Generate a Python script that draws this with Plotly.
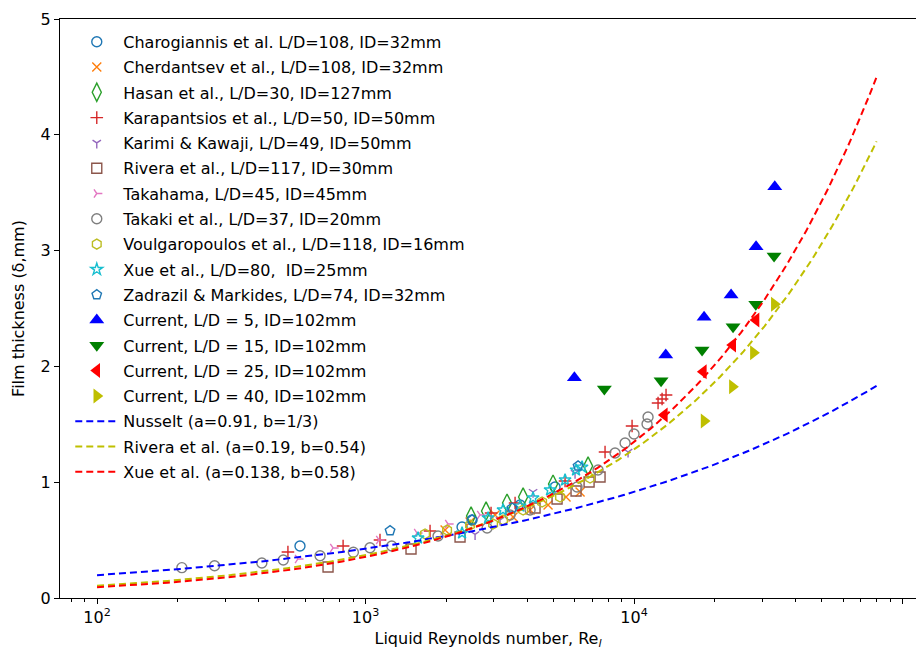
import numpy as np
import plotly.graph_objects as go

# ---------------- data ----------------
charo_re = [570, 2288, 2493, 3763, 5078]
charo_d = [0.449, 0.613, 0.674, 0.803, 0.959]

cherd_re = [1978, 2451, 3037, 3543, 4100, 4783, 5581, 6294]
cherd_d = [0.587, 0.656, 0.717, 0.699, 0.760, 0.803, 0.872, 0.915]

hasan_re = [2472, 2811, 3365, 3862, 4992, 6742]
hasan_d = [0.708, 0.751, 0.820, 0.872, 0.984, 1.140]

karap_re = [514, 825, 1132, 1739, 2934, 3605, 5534, 7798, 9831, 12286, 12715, 13156]
karap_d = [0.397, 0.449, 0.501, 0.579, 0.734, 0.820, 1.010, 1.261, 1.485, 1.684, 1.718, 1.753]

karimi_re = [2558, 3168, 4206, 6029, 9500]
karimi_d = [0.550, 0.674, 0.915, 1.079, 1.261]

rivera_re = [725, 1477, 2249, 4278, 5167, 6081, 6800, 7470]
rivera_d = [0.268, 0.423, 0.527, 0.777, 0.855, 0.924, 1.002, 1.045]

takahama_re = [560, 757, 1123, 1555, 2029, 2670]
takahama_d = [0.337, 0.432, 0.501, 0.561, 0.639, 0.717]

takaki_re = [207, 274, 411, 494, 677, 901, 1039, 1252, 1862, 2836, 3453, 4100,
             6134, 7343, 8496, 9259, 9998, 11178, 11275]
takaki_d = [0.262, 0.279, 0.302, 0.328, 0.365, 0.395, 0.434, 0.449, 0.535, 0.604,
            0.717, 0.760, 0.959, 1.105, 1.252, 1.339, 1.416, 1.503, 1.563]

voulg_re = [1666, 2012, 2451, 2985, 3251, 3862, 4545, 5302, 6858]
voulg_d = [0.553, 0.587, 0.630, 0.639, 0.674, 0.760, 0.829, 0.872, 1.036]

xue_re = [1569, 2288, 2860, 3251, 3763, 4206, 4866, 5534, 6081, 6403]
xue_d = [0.518, 0.561, 0.691, 0.760, 0.794, 0.864, 0.933, 1.019, 1.105, 1.131]

zadr_re = [1234, 2493, 3513, 6187]
zadr_d = [0.581, 0.674, 0.777, 1.140]

cur5_re = [5995, 13122, 18230, 22980, 28470, 33420]
cur5_d = [1.902, 2.098, 2.424, 2.617, 3.034, 3.552]

cur15_re = [7752, 12607, 17920, 23370, 28400, 33220]
cur15_d = [1.805, 1.877, 2.142, 2.343, 2.536, 2.953]

cur25_re = [12968, 18120, 23310, 28470]
cur25_d = [1.580, 1.954, 2.185, 2.401]

cur40_re = [18230, 23230, 27820, 33300]
cur40_d = [1.528, 1.825, 2.118, 2.536]

# correlations: delta = a * (nu^2/g)^(1/3) * Re^b   (mm)
corr_names = ["Nusselt (a=0.91, b=1/3)", "Rivera et al. (a=0.19, b=0.54)",
              "Xue et al. (a=0.138, b=0.58)"]
corr_a = [0.91, 0.19, 0.138]
corr_b = [1 / 3, 0.54, 0.58]
corr_colors = ["#0000ff", "#bfbf00", "#ff0000"]
nu = 1.0e-6
g = 9.81
re_min, re_max = 100, 80000

# ---------------- figure ----------------
FONT = "DejaVu Sans"
fig = go.Figure()

series = [
    ("Charogiannis et al. L/D=108, ID=32mm", charo_re, charo_d, "circle-open", "#1f77b4", 10),
    ("Cherdantsev et al., L/D=108, ID=32mm", cherd_re, cherd_d, "x-thin-open", "#ff7f0e", 9),
    ("Hasan et al., L/D=30, ID=127mm", hasan_re, hasan_d, "diamond-tall-open", "#2ca02c", 13),
    ("Karapantsios et al., L/D=50, ID=50mm", karap_re, karap_d, "cross-thin-open", "#d62728", 9),
    ("Karimi & Kawaji, L/D=49, ID=50mm", karimi_re, karimi_d, "y-down-open", "#9467bd", 7),
    ("Rivera et al., L/D=117, ID=30mm", rivera_re, rivera_d, "square-open", "#8c564b", 10),
    ("Takahama, L/D=45, ID=45mm", takahama_re, takahama_d, "y-right-open", "#e377c2", 7),
    ("Takaki et al., L/D=37, ID=20mm", takaki_re, takaki_d, "circle-open", "#7f7f7f", 10),
    ("Voulgaropoulos et al., L/D=118, ID=16mm", voulg_re, voulg_d, "hexagon-open", "#bcbd22", 10),
    ("Xue et al., L/D=80,  ID=25mm", xue_re, xue_d, "star-open", "#17becf", 9),
    ("Zadrazil & Markides, L/D=74, ID=32mm", zadr_re, zadr_d, "pentagon-open", "#1f77b4", 10),
]
for i, (name, xs, ys, sym, col, sz) in enumerate(series):
    fig.add_trace(go.Scatter(
        x=xs, y=ys, mode="markers", name=name, legendgroup=f"g{i}",
        marker=dict(symbol=sym, size=sz, color=col, line=dict(width=1.4, color=col)),
    ))

current = [
    ("Current, L/D = 5, ID=102mm", cur5_re, cur5_d, "triangle-up", "#0000ff"),
    ("Current, L/D = 15, ID=102mm", cur15_re, cur15_d, "triangle-down", "#008000"),
    ("Current, L/D = 25, ID=102mm", cur25_re, cur25_d, "triangle-left", "#ff0000"),
    ("Current, L/D = 40, ID=102mm", cur40_re, cur40_d, "triangle-right", "#bfbf00"),
]
for j, (name, xs, ys, sym, col) in enumerate(current):
    fig.add_trace(go.Scatter(
        x=xs, y=ys, mode="markers", name=name, legendgroup=f"c{j}",
        marker=dict(symbol=sym, size=13, color=col, line=dict(width=0)),
    ))

re_grid = np.logspace(np.log10(re_min), np.log10(re_max), 300)
scale = (nu ** 2 / g) ** (1 / 3) * 1000.0
for k in range(3):
    fig.add_trace(go.Scatter(
        x=re_grid, y=corr_a[k] * scale * re_grid ** corr_b[k], mode="lines",
        name=corr_names[k], legendgroup=f"l{k}",
        line=dict(color=corr_colors[k], width=2, dash="7px,4px"),
    ))

fig.update_layout(
    width=916, height=650,
    margin=dict(l=60, r=0, t=19, b=52),
    paper_bgcolor="white", plot_bgcolor="white",
    font=dict(family=FONT, size=16, color="black"),
    showlegend=True,
    legend=dict(
        x=0.012, y=0.99, xanchor="left", yanchor="top",
        bgcolor="rgba(255,255,255,0)", borderwidth=0,
        font=dict(family=FONT, size=16, color="black"),
        tracegroupgap=1.5, itemwidth=43,
    ),
)
fig.update_xaxes(
    type="log", range=[np.log10(72.8), 5.050],
    showgrid=False, zeroline=False,
    showline=True, linecolor="black", linewidth=1, mirror=True,
    ticks="outside", ticklen=5, tickwidth=1, tickcolor="black",
    tickvals=[100, 1000, 10000, 100000], exponentformat="power",
    ticktext=["10<sup>2</sup>", "10<sup>3</sup>", "10<sup>4</sup>", "10<sup>5</sup>"],
    minor=dict(ticks="outside", ticklen=3, tickcolor="black", tickwidth=1,
               tickvals=[m * 10 ** e for e in range(1, 5) for m in range(2, 10)]),
    tickfont=dict(family=FONT, size=16),
    automargin=False,
    title=dict(text="Liquid Reynolds number, Re<sub><i>l</i></sub>",
               font=dict(family=FONT, size=16), standoff=17),
)
fig.update_yaxes(
    range=[0, 5], showgrid=False, zeroline=False,
    showline=True, linecolor="black", linewidth=1, mirror=False,
    ticks="outside", ticklen=5, tickwidth=1, tickcolor="black",
    tickvals=[0, 1, 2, 3, 4, 5],
    tickfont=dict(family=FONT, size=16),
    automargin=False,
    title=dict(text="Film thickness (δ,mm)", font=dict(family=FONT, size=16), standoff=12),
)

fig.write_html("out.html")
